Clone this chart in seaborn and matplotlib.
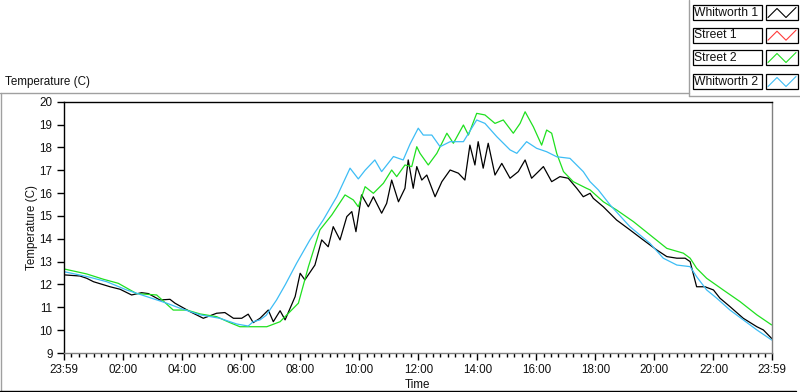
import numpy as np
import pandas as pd
import matplotlib
matplotlib.use("Agg")
import matplotlib.pyplot as plt
from matplotlib.patches import Rectangle
from matplotlib.lines import Line2D
import seaborn as sns

# Readings (hours after midnight, degrees C)
w1_t = [0, 0.54, 0.77, 1.0, 1.56, 1.9, 2.29, 2.63, 2.86, 3.25, 3.59, 3.76, 4.27, 4.72, 5.17, 5.45,
        5.74, 6.02, 6.24, 6.41, 6.64, 6.92, 7.09, 7.32, 7.49, 7.83, 8.0, 8.16, 8.5, 8.73, 8.95, 9.12,
        9.35, 9.58, 9.75, 9.89, 10.08, 10.31, 10.48, 10.76, 10.93, 11.1, 11.33, 11.55, 11.66, 11.83,
        11.95, 12.12, 12.29, 12.57, 12.8, 13.08, 13.36, 13.58, 13.75, 13.92, 14.03, 14.2, 14.37, 14.6,
        14.83, 15.11, 15.39, 15.62, 15.84, 16.07, 16.24, 16.52, 16.8, 17.08, 17.37, 17.59, 17.82, 17.93,
        18.27, 18.72, 19.17, 19.62, 20.08, 20.42, 20.76, 21.04, 21.21, 21.43, 21.71, 22.0, 22.22, 22.56,
        23.01, 23.47, 23.69, 23.97]
w1_v = [12.42, 12.37, 12.27, 12.12, 11.9, 11.79, 11.54, 11.64, 11.6, 11.32, 11.35, 11.18, 10.81, 10.52,
        10.74, 10.77, 10.52, 10.52, 10.7, 10.33, 10.52, 10.88, 10.37, 10.85, 10.45, 11.47, 12.49, 12.2,
        12.85, 13.95, 13.65, 14.53, 13.95, 14.97, 15.19, 14.31, 15.92, 15.4, 15.84, 15.12, 15.55, 16.57,
        15.62, 16.21, 17.45, 16.21, 17.16, 16.57, 16.79, 15.84, 16.5, 17.01, 16.87, 16.57, 18.1, 17.23,
        18.25, 17.09, 18.18, 16.79, 17.3, 16.65, 16.94, 17.45, 16.65, 16.94, 17.16, 16.5, 16.72, 16.65,
        16.21, 15.84, 15.99, 15.77, 15.4, 14.82, 14.39, 13.95, 13.51, 13.22, 13.15, 13.15, 13.0, 11.9,
        11.9, 11.76, 11.4, 11.03, 10.52, 10.15, 10.01, 9.64]

s1_t = []
s1_v = []

s2_t = [0, 0.77, 1.33, 1.84, 2.46, 3.14, 3.7, 4.16, 4.61, 5.17, 5.62, 5.96, 6.53, 6.87, 7.32, 7.94,
        8.28, 8.67, 9.07, 9.52, 9.8, 9.97, 10.2, 10.48, 10.82, 11.1, 11.27, 11.55, 11.78, 11.95, 12.06,
        12.34, 12.63, 12.97, 13.19, 13.53, 13.7, 13.98, 14.26, 14.6, 14.88, 15.22, 15.45, 15.62, 15.9,
        16.18, 16.35, 16.52, 16.69, 16.92, 17.25, 17.7, 17.82, 18.27, 18.72, 19.29, 19.85, 20.42, 20.98,
        21.21, 21.43, 21.77, 22.33, 22.9, 23.47, 23.97]
s2_v = [12.68, 12.46, 12.23, 12.05, 11.6, 11.54, 10.88, 10.88, 10.71, 10.59, 10.33, 10.15, 10.15, 10.15,
        10.37, 11.18, 12.78, 14.39, 15.04, 15.92, 15.7, 15.4, 16.28, 15.99, 16.43, 17.01, 16.72, 17.23,
        17.16, 18.03, 17.74, 17.23, 17.74, 18.62, 18.18, 18.98, 18.54, 19.49, 19.42, 19.05, 19.2, 18.62,
        19.05, 19.56, 18.9, 18.1, 18.76, 18.62, 17.74, 16.94, 16.5, 16.21, 16.14, 15.62, 15.26, 14.75,
        14.17, 13.58, 13.37, 13.15, 12.71, 12.27, 11.76, 11.25, 10.67, 10.23]

w2_t = [0, 0.77, 1.45, 2.12, 2.8, 3.48, 3.93, 4.61, 5.28, 5.85, 6.24, 6.41, 6.64, 6.85, 7.2, 7.5, 7.88,
        8.33, 8.78, 9.24, 9.69, 9.97, 10.2, 10.53, 10.76, 11.16, 11.49, 11.72, 12.0, 12.17, 12.46, 12.74,
        13.08, 13.53, 13.98, 14.26, 14.66, 15.11, 15.34, 15.67, 16.01, 16.35, 16.69, 17.14, 17.59, 17.82,
        18.1, 18.5, 19.17, 19.85, 20.3, 20.76, 21.21, 21.43, 21.77, 22.11, 22.56, 23.01, 23.47, 23.97]
w2_v = [12.56, 12.35, 12.12, 11.76, 11.47, 11.18, 10.96, 10.67, 10.52, 10.27, 10.18, 10.37, 10.45, 10.65,
        11.32, 12.0, 12.93, 13.95, 14.82, 15.84, 17.09, 16.62, 17.0, 17.45, 16.94, 17.6, 17.45, 18.14,
        18.84, 18.54, 18.54, 18.03, 18.25, 18.25, 19.2, 19.05, 18.47, 17.89, 17.74, 18.25, 17.96, 17.81,
        17.59, 17.52, 16.94, 16.5, 16.14, 15.48, 14.53, 13.8, 13.15, 12.85, 12.78, 12.34, 11.76, 11.4,
        10.88, 10.45, 10.01, 9.57]

names = ["Whitworth 1", "Street 1", "Street 2", "Whitworth 2"]
colors = ["#000000", "#ff3b3b", "#1fe01f", "#3dbdf5"]
y_ticks = list(range(9, 21))
x_major = [2, 4, 6, 8, 10, 12, 14, 16, 18, 20, 22]
x_major_labels = ["02:00", "04:00", "06:00", "08:00", "10:00", "12:00", "14:00", "16:00", "18:00",
                  "20:00", "22:00"]

series = [(w1_t, w1_v), (s1_t, s1_v), (s2_t, s2_v), (w2_t, w2_v)]
frames = []
for name, (t, v) in zip(names, series):
    frames.append(pd.DataFrame({"Time": t, "Temp": v, "Sensor": name}))
df = pd.concat(frames, ignore_index=True)

sns.set_theme(style="white")
plt.rcParams["font.family"] = ["Liberation Sans", "DejaVu Sans"]
FS = 8.4

W, H = 800, 392
fig = plt.figure(figsize=(W / 100, H / 100), dpi=100)
x0, x1, yt, yb = 63.5, 772, 101.7, 353
ax = fig.add_axes([x0 / W, 1 - yb / H, (x1 - x0) / W, (yb - yt) / H])

sns.lineplot(data=df, x="Time", y="Temp", hue="Sensor", hue_order=names,
             palette=dict(zip(names, colors)), estimator=None, sort=False,
             linewidth=0.9, legend=False, ax=ax)

start = -1 / 60
ax.set_xlim(start, 24 + start)
ax.set_ylim(9, 20)
ax.set_xticks([start] + x_major + [24 + start])
ax.set_xticklabels(["23:59"] + x_major_labels + ["23:59"])
ax.set_xticks([q / 4 for q in range(1, 96) if q % 8 != 0], minor=True)
ax.set_yticks(y_ticks)
ax.set_yticklabels([str(v) for v in y_ticks])
ax.tick_params(axis="both", which="major", direction="out", length=5, width=1, color="black",
               labelsize=FS, pad=3, labelcolor="#111111", bottom=True, left=True)
ax.tick_params(axis="x", which="minor", direction="out", length=3, width=1, color="black", bottom=True)

for side in ["left", "top"]:
    ax.spines[side].set_color("black")
for side in ["right", "bottom"]:
    ax.spines[side].set_color("#808080")
for sp in ax.spines.values():
    sp.set_linewidth(1)
    sp.set_visible(True)

ax.set_xlabel("Time", fontsize=FS, color="#111111")
ax.set_ylabel("Temperature (C)", fontsize=FS, color="#111111")
ax.xaxis.set_label_coords(0.5, -0.103)
ax.yaxis.set_label_coords(-0.036, 0.5)


def fx(x):
    return x / W


def fy(y):
    return 1 - y / H


# panel frame (LabVIEW style)
fig.add_artist(Line2D([fx(0), fx(689)], [fy(92.5), fy(92.5)], color="#a0a0a0", lw=1))
fig.add_artist(Line2D([fx(689), fx(689)], [fy(0), fy(95.5)], color="#a0a0a0", lw=1))
fig.add_artist(Line2D([fx(689), fx(800)], [fy(95.5), fy(95.5)], color="#a0a0a0", lw=1))
fig.add_artist(Line2D([fx(0.5), fx(0.5)], [fy(92.5), fy(391)], color="#a0a0a0", lw=1))
fig.add_artist(Line2D([fx(0), fx(796)], [fy(390.5), fy(390.5)], color="black", lw=1))

fig.text(fx(5), fy(82.5), "Temperature (C)", fontsize=FS, va="center", ha="left", color="#111111")

# legend boxes
row_tops = [5, 27.7, 50, 74]
for name, col, top in zip(names, colors, row_tops):
    fig.add_artist(Rectangle((fx(692.5), fy(top + 15)), (761.5 - 692.5) / W, 15 / H,
                             facecolor="white", edgecolor="black", lw=0.9))
    fig.add_artist(Rectangle((fx(766), fy(top + 15)), (798 - 766) / W, 15 / H,
                             facecolor="white", edgecolor="black", lw=0.9))
    fig.text(fx(694.5), fy(top + 7.8), name, fontsize=FS + 0.3, va="center", ha="left", color="#111111")
    zx = [768, 777, 786, 796]
    zy = [top + 12.5, top + 3.5, top + 12.5, top + 2.5]
    fig.add_artist(Line2D([fx(v) for v in zx], [fy(v) for v in zy], color=col, lw=0.8))

fig.savefig("out.png", dpi=100)
